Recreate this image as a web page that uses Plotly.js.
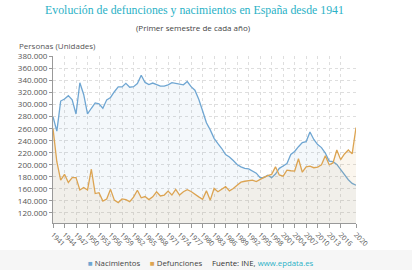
<!DOCTYPE html>
<html>
<head>
<meta charset="utf-8">
<script src="https://cdn.plot.ly/plotly-3.0.1.min.js"></script>
<style>
html,body{margin:0;padding:0;background:#fff;}
#chart{width:412px;height:270px;}
</style>
</head>
<body>
<div id="chart"></div>
<script>
var years = [1941,1942,1943,1944,1945,1946,1947,1948,1949,1950,
1951,1952,1953,1954,1955,1956,1957,1958,1959,1960,
1961,1962,1963,1964,1965,1966,1967,1968,1969,1970,
1971,1972,1973,1974,1975,1976,1977,1978,1979,1980,
1981,1982,1983,1984,1985,1986,1987,1988,1989,1990,
1991,1992,1993,1994,1995,1996,1997,1998,1999,2000,
2001,2002,2003,2004,2005,2006,2007,2008,2009,2010,
2011,2012,2013,2014,2015,2016,2017,2018,2019,2020];

var nacimientos = [280000,256000,306000,309500,315000,308000,284500,336500,317000,284500,
294000,303000,301500,294000,308000,312000,321500,329500,329500,335500,
329000,330000,335000,349000,337000,333500,336000,333500,331000,331000,
333000,336500,335000,333500,333000,338500,330000,324000,309000,290000,
270000,258000,244000,235000,227000,217000,213000,207000,200500,196500,
194000,193000,190000,186000,178500,178500,182500,178500,184500,194000,
198000,202000,217000,222000,230000,237000,238500,254500,242000,233500,
228500,219500,206000,205000,200500,191500,182000,175000,169000,166000];

var defunciones = [260000,205000,174500,184000,170500,178500,178500,158000,162000,158000,
192500,152000,153500,139500,143000,159000,141000,137000,143000,142000,
138500,146000,157500,145000,147000,142000,146500,155000,148000,149500,
156000,149500,159000,149500,155000,158500,155500,150500,146500,142500,
156500,141000,160500,155000,160000,163500,156500,160500,166000,171000,
172500,173000,174500,172000,176000,179000,182000,184000,196500,183000,
181000,191000,190000,189500,210000,187500,196500,197500,195000,196000,
200000,215000,200000,203000,224500,208500,218000,224500,218000,262000];

var tickYears = [1941,1944,1947,1950,1953,1956,1959,1962,1965,1968,1971,1974,1977,
1980,1983,1986,1989,1992,1995,1998,2001,2004,2007,2010,2013,2016,2020];

var seriesNames = ['Nacimientos','Defunciones'];

var blue = '#6fa6d2', orange = '#dca452';
var font = '"Open Sans", "Noto Sans", sans-serif';

var traces = [
  {x: years, y: nacimientos, type: 'scatter', mode: 'lines', name: seriesNames[0],
   line: {color: blue, width: 1.3}, fill: 'tozeroy', fillcolor: 'rgba(111,166,210,0.08)',
   hoverinfo: 'skip'},
  {x: years, y: defunciones, type: 'scatter', mode: 'lines', name: seriesNames[1],
   line: {color: orange, width: 1.3}, fill: 'tozeroy', fillcolor: 'rgba(214,170,90,0.10)',
   hoverinfo: 'skip'}
];

var plotL = 53, plotT = 56, plotW = 303, plotH = 167;
function px(x){ return (x - plotL) / plotW; }
function py(y){ return (plotT + plotH - y) / plotH; }

var layout = {
  width: 412, height: 270,
  margin: {l: plotL, r: 412 - plotL - plotW, t: plotT, b: 270 - plotT - plotH, pad: 0},
  paper_bgcolor: '#ffffff', plot_bgcolor: '#ffffff',
  separators: ',.',
  showlegend: false,
  font: {family: font, size: 8, color: '#555'},
  title: {text: 'Evolución de defunciones y nacimientos en España desde 1941',
          x: 194.5/412, xanchor: 'center', xref: 'container',
          y: 1 - 10/270, yanchor: 'middle', yref: 'container',
          font: {family: '"Liberation Serif", "DejaVu Serif", serif', size: 11.8, color: '#2ab1c6'}},
  xaxis: {
    type: 'linear', range: [1941, 2020],
    tickmode: 'array', tickvals: tickYears, ticktext: tickYears.map(String),
    tickangle: 45, tickfont: {size: 7, color: '#555'},
    showline: true, linecolor: '#999', linewidth: 1,
    ticks: 'outside', ticklen: 4, tickcolor: '#999',
    showgrid: true, gridcolor: '#dedede', griddash: 'dot', gridwidth: 1,
    zeroline: false, fixedrange: true
  },
  yaxis: {
    range: [103000, 381000], dtick: 20000, tick0: 0,
    tickformat: ',.0f', tickfont: {size: 8, color: '#555'},
    showline: true, linecolor: '#999', linewidth: 1,
    ticks: 'outside', ticklen: 3, tickcolor: '#999',
    showgrid: true, gridcolor: '#dedede', griddash: 'dot', gridwidth: 1,
    zeroline: false, fixedrange: true
  },
  shapes: [
    {type: 'rect', xref: 'paper', yref: 'paper', x0: px(0), x1: px(412), y0: py(250), y1: py(270),
     fillcolor: '#f6f6f6', line: {width: 0}, layer: 'below'}
  ],
  annotations: [
    {text: '(Primer semestre de cada año)', xref: 'paper', yref: 'paper',
     x: px(193.5), y: py(27), xanchor: 'center', yanchor: 'middle', showarrow: false,
     font: {family: font, size: 8, color: '#444'}},
    {text: 'Personas (Unidades)', xref: 'paper', yref: 'paper',
     x: px(17), y: py(45), xanchor: 'left', yanchor: 'middle', showarrow: false,
     font: {family: font, size: 8, color: '#555'}},
    {text: '<span style="color:' + blue + '">■</span> ' + seriesNames[0], xref: 'paper', yref: 'paper',
     x: px(86), y: py(263), xanchor: 'left', yanchor: 'middle', showarrow: false,
     font: {family: font, size: 7.8, color: '#444'}},
    {text: '<span style="color:' + orange + '">■</span> ' + seriesNames[1], xref: 'paper', yref: 'paper',
     x: px(148), y: py(263), xanchor: 'left', yanchor: 'middle', showarrow: false,
     font: {family: font, size: 7.8, color: '#444'}},
    {text: 'Fuente: INE, <span style="color:#2ab1c6">www.epdata.es</span>', xref: 'paper', yref: 'paper',
     x: px(210), y: py(263), xanchor: 'left', yanchor: 'middle', showarrow: false,
     font: {family: font, size: 7.8, color: '#333'}}
  ]
};

Plotly.newPlot('chart', traces, layout, {displayModeBar: false, staticPlot: true});
</script>
</body>
</html>
